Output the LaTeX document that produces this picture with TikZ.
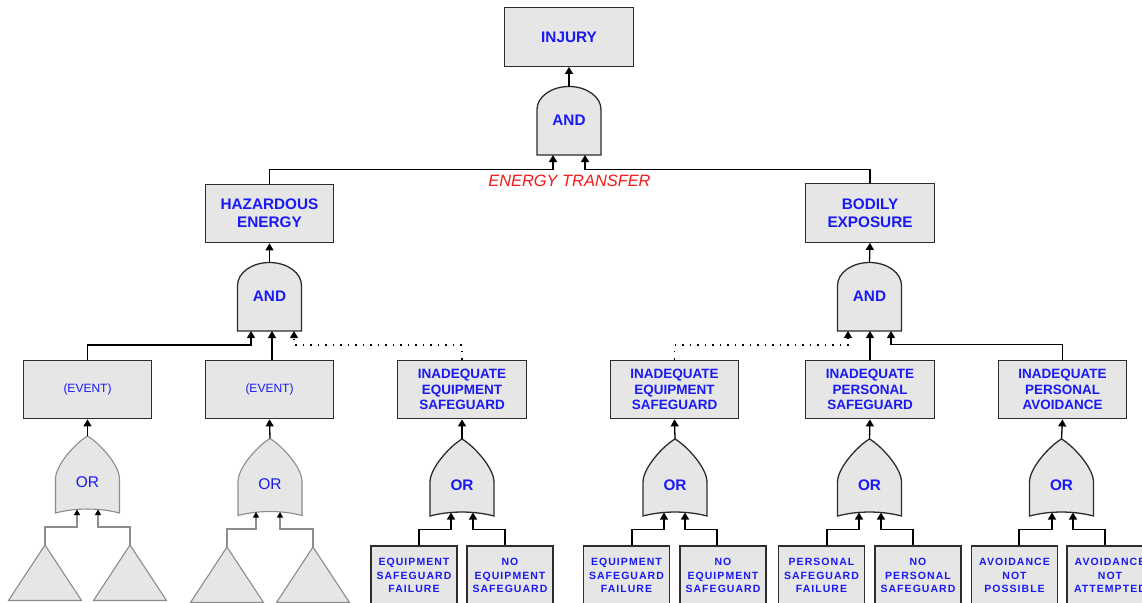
\documentclass[tikz,border=0pt]{standalone}
\usepackage{fontspec}
\setmainfont{Liberation Sans}
\usetikzlibrary{arrows.meta,calc}

\definecolor{boxfill}{RGB}{230,230,230}
\definecolor{boxline}{RGB}{45,45,45}
\definecolor{lblue}{RGB}{25,25,245}
\definecolor{lred}{RGB}{245,25,25}
\definecolor{dimline}{RGB}{140,140,140}

% fonts used by the labels
\newcommand\fBig{\fontsize{15.3}{18}\selectfont\bfseries}
\newcommand\fMid{\fontsize{13.5}{15.4}\selectfont\bfseries}
\newcommand\fLeaf{\fontsize{10.5}{13.3}\selectfont\bfseries\addfontfeatures{LetterSpace=10}}
\newcommand\fEv{\fontsize{12}{14}\selectfont}
\newcommand\fGate{\fontsize{15.3}{18}\selectfont\bfseries}
\newcommand\fDimOr{\fontsize{15.5}{18}\selectfont}
\newcommand\fEt{\fontsize{16.4}{19}\selectfont\itshape}

\tikzset{
  box/.style={draw=boxline, line width=1.3pt, fill=boxfill, minimum width=128.5pt,
    minimum height=58.5pt, inner sep=0pt, align=center, text=lblue, font=\fBig},
  midbox/.style={box, font=\fMid},
  evbox/.style={box, font=\fEv},
  leaf/.style={box, minimum width=86pt, minimum height=59pt, font=\fLeaf},
  conn/.style={draw=black, line width=1.3pt, -{Triangle[length=7pt,width=8pt]}},
  dotconn/.style={conn, dash pattern=on 1.3pt off 6.2pt},
  dimconn/.style={draw=dimline, line width=1.1pt, -{Triangle[length=5.5pt,width=6pt,color=black]}},
  gateshape/.style={draw=boxline, line width=1.3pt, fill=boxfill},
  dimgate/.style={draw=dimline, line width=1.1pt, fill=boxfill},
  gatelabel/.style={inner sep=0pt, text=lblue, font=\fGate},
  dimlabel/.style={inner sep=0pt, text=lblue, font=\fDimOr},
}

% AND gate: name, x, y, label
\newcommand\andgate[4]{%
  \draw[gateshape, shift={(#2,#3)}] (-32,35) -- (-32,-10.5)
    .. controls (-32,-23.2) and (-17.7,-33.5) .. (0,-33.5)
    .. controls (17.7,-33.5) and (32,-23.2) .. (32,-10.5) -- (32,35) -- cycle;
  \node[gatelabel] (#1) at (#2,#3) {#4};
  \coordinate (#1-top) at ($(#1)+(0,-33.5)$);
}
% OR gate: shape style, label style, name, x, y, label
\newcommand\orgate[6]{%
  \draw[#1, shift={(#4,#5)}] (-32,-3)
    .. controls (-32,-17) and (-12,-39) .. (0,-46)
    .. controls (12,-39) and (32,-17) .. (32,-3) -- (32,31)
    .. controls (12,25.7) and (-12,25.7) .. (-32,31) -- cycle;
  \node[#2] (#3) at (#4,#5) {#6};
  \coordinate (#3-top) at ($(#3)+(0,-46)$);
}

\begin{document}
\begin{tikzpicture}[x=1pt,y=-1pt]
\useasboundingbox (0,0) rectangle (1142,602);
\fill[white] (0,0) rectangle (1142,602);
\clip (0,0) rectangle (1142,602);

% ---- top level
\node[box] (inj) at (569,37) {INJURY};
\andgate{g0}{569}{120}{AND}
\coordinate (g0-i1) at (553,155);
\coordinate (g0-i2) at (585,155);
\node[text=lred, font=\fEt, inner sep=0pt] (et) at (569.5,181) {ENERGY TRANSFER};

\node[box] (haz) at (269.5,213.5) {HAZARDOUS\\ENERGY};
\node[box] (bod) at (870,213) {BODILY\\EXPOSURE};

\draw[conn] (g0-top) -- (inj.south);
\draw[conn] (haz.north) |- ($(g0-i1)+(0,14.5)$) -- (g0-i1);
\draw[conn] (bod.north) |- ($(g0-i2)+(0,14.5)$) -- (g0-i2);

% ---- second level gates
\andgate{g1}{269.5}{296}{AND}
\coordinate (g1-i1) at (251,331);
\coordinate (g1-i2) at (272,331);
\coordinate (g1-i3) at (294,331);
\andgate{g2}{869.5}{296}{AND}
\coordinate (g2-i1) at (848,331);
\coordinate (g2-i2) at (870,331);
\coordinate (g2-i3) at (891,331);

\draw[conn] (g1-top) -- (haz.south);
\draw[conn] (g2-top) -- (bod.south);

% ---- third level boxes
\node[evbox] (ev1) at (87.5,389.5) {(EVENT)};
\node[evbox] (ev2) at (269.5,389.5) {(EVENT)};
\node[midbox] (ies1) at (462,389.5) {INADEQUATE\\EQUIPMENT\\SAFEGUARD};
\node[midbox] (ies2) at (674.5,389.5) {INADEQUATE\\EQUIPMENT\\SAFEGUARD};
\node[midbox] (ips) at (870,389.5) {INADEQUATE\\PERSONAL\\SAFEGUARD};
\node[midbox] (ipa) at (1062.5,389.5) {INADEQUATE\\PERSONAL\\AVOIDANCE};

\draw[conn] (ev1.north) |- ($(g1-i1)+(0,14)$) -- (g1-i1);
\draw[conn] (g1-i2 |- ev2.north) -- (g1-i2);
\draw[dotconn] (ies1.north) |- ($(g1-i3)+(0,14)$) -- (g1-i3);
\draw[dotconn] (ies2.north) |- ($(g2-i1)+(0,14)$) -- (g2-i1);
\draw[conn] (g2-i2 |- ips.north) -- (g2-i2);
\draw[conn] (ipa.north) |- ($(g2-i3)+(0,13.5)$) -- (g2-i3);

% ---- OR gates
\orgate{dimgate}{dimlabel}{o1}{87.5}{482}{OR}
\orgate{dimgate}{dimlabel}{o2}{270}{484.5}{OR}
\orgate{gateshape}{gatelabel}{o3}{462}{485}{OR}
\orgate{gateshape}{gatelabel}{o4}{675}{485}{OR}
\orgate{gateshape}{gatelabel}{o5}{869.5}{485}{OR}
\orgate{gateshape}{gatelabel}{o6}{1061.5}{485}{OR}

\coordinate (o1-i1) at (77,509.5);   \coordinate (o1-i2) at (98,509.5);
\coordinate (o2-i1) at (256,512);    \coordinate (o2-i2) at (280,512);
\coordinate (o3-i1) at (451,512.5);  \coordinate (o3-i2) at (473,512.5);
\coordinate (o4-i1) at (664,512.5);  \coordinate (o4-i2) at (685,512.5);
\coordinate (o5-i1) at (859,512.5);  \coordinate (o5-i2) at (881,512.5);
\coordinate (o6-i1) at (1052,512.5); \coordinate (o6-i2) at (1073,512.5);

\draw[conn] (o1-top) -- (ev1.south);
\draw[conn] (o2-top) -- (ev2.south);
\draw[conn] (o3-top) -- (ies1.south);
\draw[conn] (o4-top) -- (ies2.south);
\draw[conn] (o5-top) -- (ips.south);
\draw[conn] (o6-top) -- (ipa.south);

% ---- undeveloped branches
\coordinate (t1) at (45,545);
\coordinate (t2) at (130,545);
\coordinate (t3) at (227,547);
\coordinate (t4) at (313,547);
\foreach \t in {t1,t2,t3,t4}
  \draw[dimgate] (\t) -- ++(-36.5,55.5) -- ++(73,0) -- cycle;

\draw[dimconn] (t1) |- ($(o1-i1)+(0,17.5)$) -- (o1-i1);
\draw[dimconn] (t2) |- ($(o1-i2)+(0,17.5)$) -- (o1-i2);
\draw[dimconn] (t3) |- ($(o2-i1)+(0,17)$) -- (o2-i1);
\draw[dimconn] (t4) |- ($(o2-i2)+(0,17)$) -- (o2-i2);

% ---- basic events
\node[leaf] (c1) at (414,575.5) {EQUIPMENT\\SAFEGUARD\\FAILURE};
\node[leaf] (c2) at (510,575.5) {NO\\EQUIPMENT\\SAFEGUARD};
\node[leaf] (c3) at (626.5,575.5) {EQUIPMENT\\SAFEGUARD\\FAILURE};
\node[leaf] (c4) at (723,575.5) {NO\\EQUIPMENT\\SAFEGUARD};
\node[leaf] (c5) at (821.5,575.5) {PERSONAL\\SAFEGUARD\\FAILURE};
\node[leaf] (c6) at (918,575.5) {NO\\PERSONAL\\SAFEGUARD};
\node[leaf] (c7) at (1014.5,575.5) {AVOIDANCE\\NOT\\POSSIBLE};
\node[leaf] (c8) at (1110,575.5) {AVOIDANCE\\NOT\\ATTEMPTED};

\draw[conn] ($(c1.north)+(5,0)$) |- ($(o3-i1)+(0,17)$) -- (o3-i1);
\draw[conn] ($(c2.north)+(-5,0)$) |- ($(o3-i2)+(0,17)$) -- (o3-i2);
\draw[conn] ($(c3.north)+(5.5,0)$) |- ($(o4-i1)+(0,17)$) -- (o4-i1);
\draw[conn] ($(c4.north)+(-6,0)$) |- ($(o4-i2)+(0,17)$) -- (o4-i2);
\draw[conn] ($(c5.north)+(5.5,0)$) |- ($(o5-i1)+(0,17)$) -- (o5-i1);
\draw[conn] ($(c6.north)+(-5,0)$) |- ($(o5-i2)+(0,17)$) -- (o5-i2);
\draw[conn] ($(c7.north)+(4.5,0)$) |- ($(o6-i1)+(0,17)$) -- (o6-i1);
\draw[conn] ($(c8.north)+(-5,0)$) |- ($(o6-i2)+(0,17)$) -- (o6-i2);
\end{tikzpicture}
\end{document}
